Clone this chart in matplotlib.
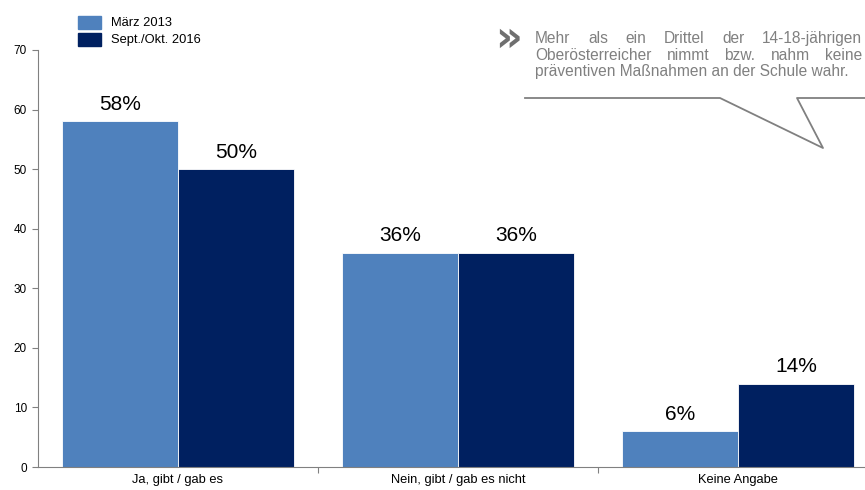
import matplotlib.pyplot as plt
from matplotlib.lines import Line2D
from matplotlib.patches import Rectangle

plt.rcParams['font.family'] = ['Liberation Sans', 'DejaVu Sans']

categories = ["Ja, gibt / gab es", "Nein, gibt / gab es nicht", "Keine Angabe"]
series_names = ["März 2013", "Sept./Okt. 2016"]
maerz_2013 = [58, 36, 6]
sept_2016 = [50, 36, 14]
y_ticks = [0, 10, 20, 30, 40, 50, 60, 70]
note_lines = [
    "Mehr als ein Drittel der 14-18-jährigen",
    "Oberösterreicher nimmt bzw. nahm keine",
    "präventiven Maßnahmen an der Schule wahr.",
]

light = "#4F81BD"
dark = "#002060"
grey = "#808080"

fig = plt.figure(figsize=(8.65, 4.9), dpi=100)
ax = fig.add_axes([38 / 865, 23 / 490, 840 / 865, 417 / 490])

w = 0.414
x = range(len(categories))
for vals, col, off in [(maerz_2013, light, -w / 2), (sept_2016, dark, w / 2)]:
    xs = [i + off for i in x]
    ax.bar(xs, vals, width=w, color=col, edgecolor="white", linewidth=0.6)
    for xi, v in zip(xs, vals):
        ax.text(xi, v + 1.2, f"{v}%", ha="center", va="bottom", fontsize=15, color="black")

ax.set_xlim(-0.5, 2.5)
ax.set_ylim(0, 70)
ax.set_yticks(y_ticks)
ax.tick_params(axis="y", labelsize=8.5, length=4, color=grey, pad=4)
ax.set_xticks([0.5, 1.5])
ax.set_xticklabels([])
ax.set_xticks(list(x), minor=True)
ax.set_xticklabels(categories, minor=True)
ax.tick_params(axis="x", which="major", length=4, color=grey)
ax.tick_params(axis="x", which="minor", length=0, labelsize=9.3, pad=5)
for s in ["top", "right"]:
    ax.spines[s].set_visible(False)
for s in ["left", "bottom"]:
    ax.spines[s].set_color(grey)
    ax.spines[s].set_linewidth(0.8)

# legend boxes drawn in figure pixels
for i, (name, col) in enumerate(zip(series_names, [light, dark])):
    top = 16 + i * 17
    fig.patches.append(Rectangle((78 / 865, 1 - (top + 13) / 490), 23 / 865, 13 / 490,
                                 transform=fig.transFigure, color=col))
    fig.text(111 / 865, 1 - (top + 6.5) / 490, name, fontsize=9.3, va="center")

# callout: double chevron, justified text, speech-bubble outline
fig.text(495 / 865, 1 - 39 / 490, "»", fontsize=30, fontweight="bold",
         family="DejaVu Sans", color="#6f6f6f", va="center", ha="left")
renderer = fig.canvas.get_renderer()
x0, x1 = 535, 862
fs = 11.2
for li, line in enumerate(note_lines):
    y = 1 - (43 + li * 16.5) / 490
    words = line.split()
    if li == len(note_lines) - 1:
        fig.text(x0 / 865, y, line, fontsize=fs, color=grey, va="baseline")
        continue
    widths = []
    for wd in words:
        t = fig.text(0, 0, wd, fontsize=fs)
        widths.append(t.get_window_extent(renderer).width)
        t.remove()
    gap = (x1 - x0 - sum(widths)) / (len(words) - 1)
    pos = x0
    for wd, wdt in zip(words, widths):
        fig.text(pos / 865, y, wd, fontsize=fs, color=grey, va="baseline")
        pos += wdt + gap

px = [525, 720, 823, 797, 865]
py = [98, 98, 148, 98, 98]
fig.lines.append(Line2D([p / 865 for p in px], [1 - p / 490 for p in py],
                        transform=fig.transFigure, color=grey, linewidth=1.3))

fig.savefig("out.png", dpi=100)
